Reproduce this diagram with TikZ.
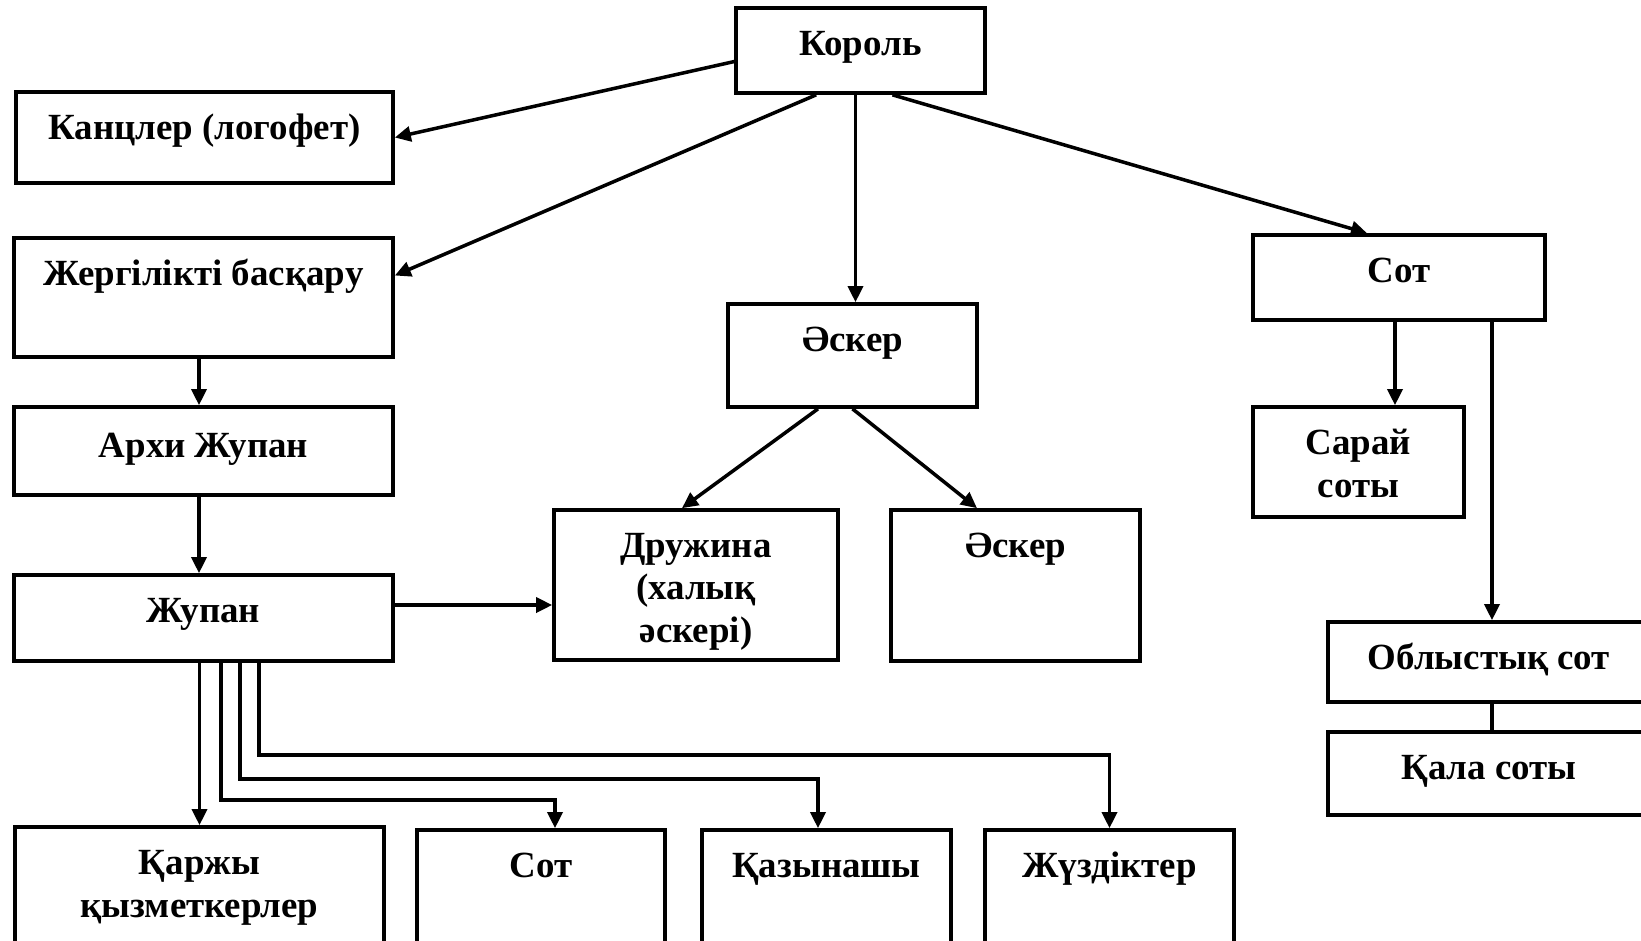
\documentclass[tikz,border=0pt]{standalone}
\usepackage{fontspec}
\setmainfont{Liberation Serif}
\usetikzlibrary{arrows.meta}

\begin{document}
\begin{tikzpicture}[
  box/.style={rectangle, draw=black, line width=1.05pt, align=center,
    inner xsep=2pt, inner ysep=0pt, text height=0.47cm,
    font=\bfseries\fontsize{10.5}{12}\selectfont},
  arr/.style={-{Triangle[length=1.6mm, width=1.5mm]}, line width=1pt},
  link/.style={line width=1pt}
]
\clip (0,0) rectangle (16.41,-9.40);

% king and left column
\node[box, minimum width=2.49cm, text depth=0.38cm] (korol) at (8.605,-0.505) {Король};
\node[box, minimum width=3.77cm, text depth=0.44cm] (kancler) at (2.045,-1.375) {Канцлер (логофет)};
\node[box, minimum width=3.79cm, text depth=0.72cm] (zhergilikti) at (2.035,-2.975) {Жергілікті басқару};
\node[box, minimum width=3.79cm, text height=0.50cm, text depth=0.38cm] (arkhi) at (2.035,-4.51) {Архи Жупан};
\node[box, minimum width=3.79cm, text depth=0.39cm] (zhupan) at (2.035,-6.18) {Жупан};

% army (multi-line text: height counts to the last line)
\node[box, minimum width=2.49cm, text depth=0.56cm] (asker) at (8.525,-3.555) {Әскер};
\node[box, minimum width=2.84cm, text height=1.32cm, text depth=0.18cm] (druzhina) at (6.96,-5.85) {Дружина\\(халық\\әскері)};
\node[box, minimum width=2.49cm, text depth=1.04cm] (askerR) at (10.155,-5.855) {Әскер};

% courts
\node[box, minimum width=2.92cm, text depth=0.38cm] (sot) at (13.99,-2.775) {Сот};
\node[box, minimum width=2.11cm, text height=0.90cm, text depth=0.20cm] (saray) at (13.585,-4.62) {Сарай\\соты};
\node[box, minimum width=3.22cm, text depth=0.33cm] (oblys) at (14.89,-6.62) {Облыстық сот};
\node[box, minimum width=3.22cm, text depth=0.36cm] (qala) at (14.89,-7.735) {Қала соты};

% bottom row
\node[box, minimum width=3.69cm, text height=0.90cm, text depth=0.33cm] (qarzhy) at (1.995,-8.885) {Қаржы\\қызметкерлер};
\node[box, minimum width=2.48cm, text depth=0.73cm] (sotB) at (5.41,-8.90) {Сот};
\node[box, minimum width=2.49cm, text depth=0.73cm] (qazynashy) at (8.265,-8.90) {Қазынашы};
\node[box, minimum width=2.49cm, text depth=0.73cm] (zhuzdikter) at (11.095,-8.90) {Жүздіктер};

\draw[arr] (korol.185) -- (kancler.east);
\draw[arr] (korol.225) -- ([yshift=2.2mm]zhergilikti.east);
\draw[arr] ([xshift=0.3mm]korol.south -| asker.north) -- ([xshift=0.3mm]asker.north);
\draw[arr] ([xshift=3.2mm]korol.south) -- ([xshift=-3.2mm]sot.north);

\draw[arr] ([xshift=-0.45mm]zhergilikti.south) -- ([xshift=-0.45mm]arkhi.north);
\draw[arr] ([xshift=-0.45mm]arkhi.south) -- ([xshift=-0.45mm]zhupan.north);
\draw[arr] ([yshift=1.3mm]zhupan.east) -- ([yshift=1.3mm]zhupan.east -| druzhina.west);
\draw[arr] ([xshift=-3.45mm]asker.south) -- ([xshift=-1.4mm]druzhina.north);
\draw[arr] (asker.south) -- ([xshift=-3.85mm]askerR.north);

\draw[arr] ([xshift=-0.4mm]sot.south) -- ([xshift=-0.4mm]sot.south |- saray.north);
\draw[arr] ([xshift=9.3mm]sot.south) -- ([xshift=9.3mm]sot.south |- oblys.north);
\draw[link] ([xshift=0.3mm]oblys.south) -- ([xshift=0.3mm]qala.north);

% branches from the zhupan
\draw[arr] (qarzhy.north |- zhupan.south) -- (qarzhy.north);
\draw[arr] ([xshift=1.75mm]zhupan.south) -- ++(0,-1.37) -| ([xshift=1.4mm]sotB.north);
\draw[arr] ([xshift=3.65mm]zhupan.south) -- ++(0,-1.16) -| ([xshift=-0.85mm]qazynashy.north);
\draw[arr] ([xshift=5.55mm]zhupan.south) -- ++(0,-0.92) -| (zhuzdikter.north);

\end{tikzpicture}
\end{document}
